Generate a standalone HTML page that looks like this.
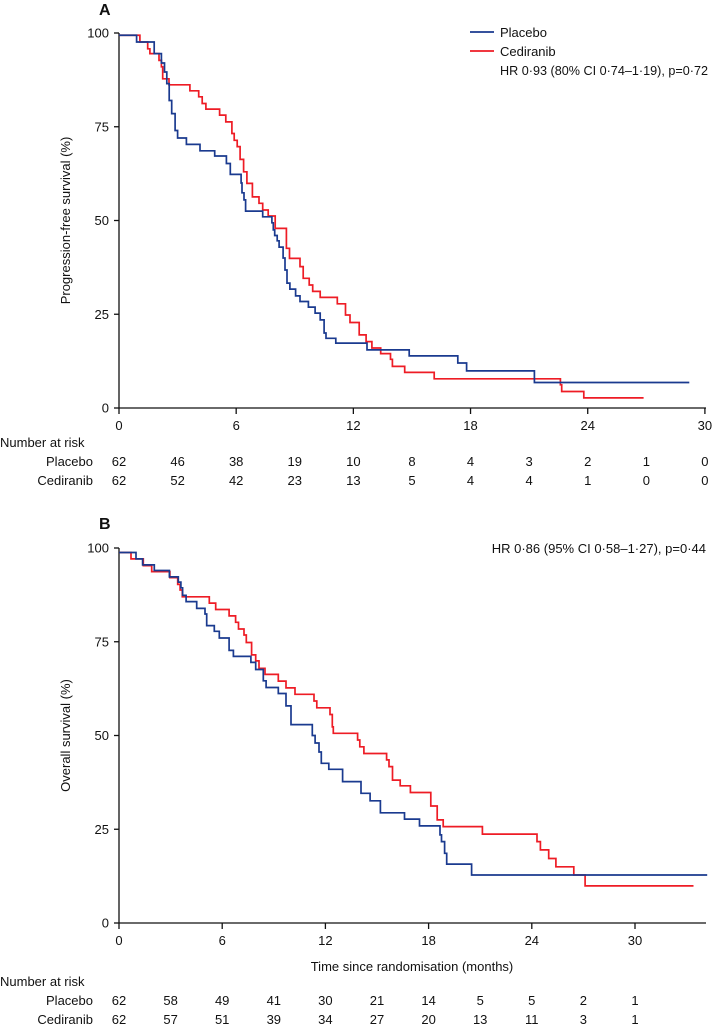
<!DOCTYPE html>
<html><head><meta charset="utf-8"><style>
html,body{margin:0;padding:0;background:#fff;}
svg{display:block;font-family:"Liberation Sans",sans-serif;}
</style></head><body>
<svg id="chart" width="712" height="1027" xmlns="http://www.w3.org/2000/svg"></svg>
<script>
// ---- Panel A data (progression-free survival) ----
const aPlaceboT = [0,0.9,1.8,2.17,2.33,2.45,2.57,2.7,2.87,3.0,3.45,4.15,4.9,5.5,5.7,6.25,6.3,6.4,6.48,7.36,7.83,7.9,7.97,8.1,8.2,8.4,8.5,8.6,8.75,9.04,9.27,9.7,10.04,10.3,10.5,10.6,11.1,12.7,14.86,17.35,17.8,21.27];
const aPlaceboS = [99.4,97.6,94.5,92,89.6,86.5,82,78.5,74,72,70.3,68.6,67.2,65.2,62.3,60,57.4,55.5,52.5,51,49.4,47.5,46,44.6,42.9,40,36.8,33.3,31.7,29.9,28.4,26.9,25.3,23.5,20,18.6,17.3,15.5,13.9,12,9.9,6.8];
const aPlaceboEnd = 29.2;
const aCedT = [0,1.07,1.47,1.58,2.05,2.17,2.24,2.56,3.63,4.08,4.26,4.45,5.15,5.47,5.78,5.9,6.05,6.2,6.38,6.55,6.83,7.17,7.36,7.64,8.0,8.57,8.73,9.27,9.43,9.74,9.92,10.3,11.18,11.6,11.83,12.3,12.65,12.95,13.4,13.9,14.0,14.63,16.14,22.6,22.67,23.8];
const aCedS = [99.4,97.6,95.8,94.5,92.7,91,87.8,86.2,84.6,83,81.2,79.7,78.1,76.3,73.2,71.4,69.7,66.3,63,59.9,56.3,54.6,52.8,51.2,47.9,42.6,39.9,37.7,34.6,32.8,31.1,29.5,27.8,24.8,22.8,19.5,17.7,16,14.5,13,11.1,9.5,7.8,6.2,4.4,2.7];
const aCedEnd = 26.86;
const aXTicks = [0,6,12,18,24,30];
const yTicks = [0,25,50,75,100];
const aRiskPlacebo = [62,46,38,19,10,8,4,3,2,1,0];
const aRiskCed = [62,52,42,23,13,5,4,4,1,0,0];

// ---- Panel B data (overall survival) ----
const bPlaceboT = [0,0.99,1.37,2.05,2.93,3.45,3.6,3.7,3.9,4.52,5.0,5.1,5.54,5.83,6.4,6.65,7.67,7.95,8.39,8.55,9.26,9.71,10.0,11.24,11.4,11.63,11.76,12.2,13.0,14.07,14.6,15.2,16.6,17.47,18.66,18.75,18.93,19.05,20.5];
const bPlaceboS = [98.8,97.1,95.5,94,92.3,90.9,89.4,87.4,85.7,83.9,82.4,79.3,77.8,76,72.7,71.1,69.5,67.6,64.6,62.8,61.2,57.9,52.9,50,48,45.6,42.6,41,37.7,34.6,32.6,29.4,27.7,25.9,23.5,21.7,18.6,15.7,12.8];
const bPlaceboEnd = 34.2;
const bCedT = [0,0.7,1.41,1.9,2.96,3.41,3.55,3.68,5.25,5.62,6.4,6.78,6.95,7.27,7.4,7.71,7.95,8.14,8.49,9.26,9.71,10.23,11.34,11.5,12.27,12.4,12.46,13.87,14.0,14.24,15.56,15.7,15.9,16.35,16.94,18.13,18.5,18.85,21.13,24.3,24.5,24.98,25.4,26.44,27.1];
const bCedS = [98.8,97.1,95.3,93.7,92.1,90.3,88.8,87,85.3,83.6,81.9,80.2,78.4,76.8,74.8,71.5,69.9,67.9,66.3,64.5,62.7,61,59.2,57.4,55.6,52.3,50.6,48.8,47,45.2,43.5,41.7,38.1,36.6,34.8,31.2,27.5,25.7,23.7,21.7,19.5,17.2,15,12.8,9.9];
const bCedEnd = 33.4;
const bXTicks = [0,6,12,18,24,30];
const bRiskPlacebo = [62,58,49,41,30,21,14,5,5,2,1];
const bRiskCed = [62,57,51,39,34,27,20,13,11,3,1];

const svg = document.getElementById('chart');
const NS = 'http://www.w3.org/2000/svg';
function mk(tag, attrs, parent){const e=document.createElementNS(NS,tag);for(const k in attrs)e.setAttribute(k,attrs[k]);(parent||svg).appendChild(e);return e;}
function txt(s, x, y, anchor, size, parent){const t=mk('text',{x:x,y:y,'text-anchor':anchor,'font-size':size,fill:'#111'},parent);t.textContent=s;return t;}

function panel(cfg){
  const g = mk('g',{});
  
  
  const X = m => cfg.x0 + m*cfg.pxPerMonth;
  const Y = p => cfg.y0 - p*cfg.pxPerPct;
  const lab = txt(cfg.letter, 99, cfg.letterY, 'start', 16, g);
  lab.setAttribute('font-weight','bold');
  
  
  const ax = mk('path',{d:`M${cfg.x0},${Y(100)} V${cfg.y0} H${cfg.axisEnd}`,stroke:'#111','stroke-width':1.3,fill:'none'},g);
  
  
  yTicks.forEach(v=>{
    mk('line',{x1:cfg.x0-5,x2:cfg.x0,y1:Y(v),y2:Y(v),stroke:'#111','stroke-width':1.3},g);
    const t = txt(String(v), cfg.x0-10, Y(v)+4.5, 'end', 13, g);
    
    
  });
  cfg.xTicks.forEach(v=>{
    mk('line',{x1:X(v),x2:X(v),y1:cfg.y0,y2:cfg.y0+6,stroke:'#111','stroke-width':1.3},g);
    const t = txt(String(v), X(v), cfg.y0+22, 'middle', 13, g);
    
    
  });
  const yt = txt(cfg.yTitle, 0, 0, 'middle', 13, g);
  yt.setAttribute('transform', `translate(70,${Y(50)}) rotate(-90)`);
  
  
  function curve(T,S,end,color,name){
    let d = `M${X(T[0])},${Y(S[0])}`;
    for(let i=1;i<T.length;i++){ d += ` H${X(T[i]).toFixed(1)} V${Y(S[i]).toFixed(1)}`; }
    d += ` H${X(end).toFixed(1)}`;
    const p = mk('path',{d:d,stroke:color,'stroke-width':1.7,fill:'none'},g);
    
    
  }
  curve(cfg.cT,cfg.cS,cfg.cEnd,'#ee1c25','cediranib-curve');
  curve(cfg.pT,cfg.pS,cfg.pEnd,'#1a3a8f','placebo-curve');
  const nr = txt('Number at risk', 0, cfg.riskY0, 'start', 13, g);
  
  
  const r1 = txt('Placebo', 93, cfg.riskY1, 'end', 13, g);
  
  
  const r2 = txt('Cediranib', 93, cfg.riskY2, 'end', 13, g);
  
  
  cfg.riskP.forEach((v,i)=>{
    const t = txt(String(v), X(i*3), cfg.riskY1, 'middle', 13, g);
    
    
  });
  cfg.riskC.forEach((v,i)=>{
    const t = txt(String(v), X(i*3), cfg.riskY2, 'middle', 13, g);
    
    
  });
  return {g,X,Y};
}

const A = panel({name:'panel-a',letter:'A',letterY:15,x0:119,y0:408,pxPerPct:3.75,pxPerMonth:19.53,axisEnd:706,
  xTicks:aXTicks,yTitle:'Progression-free survival (%)',
  pT:aPlaceboT,pS:aPlaceboS,pEnd:aPlaceboEnd,cT:aCedT,cS:aCedS,cEnd:aCedEnd,
  riskY0:447,riskY1:466,riskY2:485,riskP:aRiskPlacebo,riskC:aRiskCed});

const B = panel({name:'panel-b',letter:'B',letterY:529,x0:119,y0:923,pxPerPct:3.75,pxPerMonth:17.2,axisEnd:706,
  xTicks:bXTicks,yTitle:'Overall survival (%)',
  pT:bPlaceboT,pS:bPlaceboS,pEnd:bPlaceboEnd,cT:bCedT,cS:bCedS,cEnd:bCedEnd,
  riskY0:986,riskY1:1005,riskY2:1024,riskP:bRiskPlacebo,riskC:bRiskCed});

const xt = txt('Time since randomisation (months)', 412, 971, 'middle', 13);



const lg = mk('g',{});


const l1 = mk('line',{x1:470,x2:494,y1:32,y2:32,stroke:'#1a3a8f','stroke-width':1.7},lg);


const lt1 = txt('Placebo', 500, 37, 'start', 13, lg);


const l2 = mk('line',{x1:470,x2:494,y1:51,y2:51,stroke:'#ee1c25','stroke-width':1.7},lg);


const lt2 = txt('Cediranib', 500, 56, 'start', 13, lg);


const hrA = txt('HR 0·93 (80% CI 0·74–1·19), p=0·72', 500, 75, 'start', 13);
hrA.setAttribute('textLength', '208');
hrA.setAttribute('lengthAdjust', 'spacingAndGlyphs');


const hrB = txt('HR 0·86 (95% CI 0·58–1·27), p=0·44', 706, 553, 'end', 13);


</script>
</body></html>
